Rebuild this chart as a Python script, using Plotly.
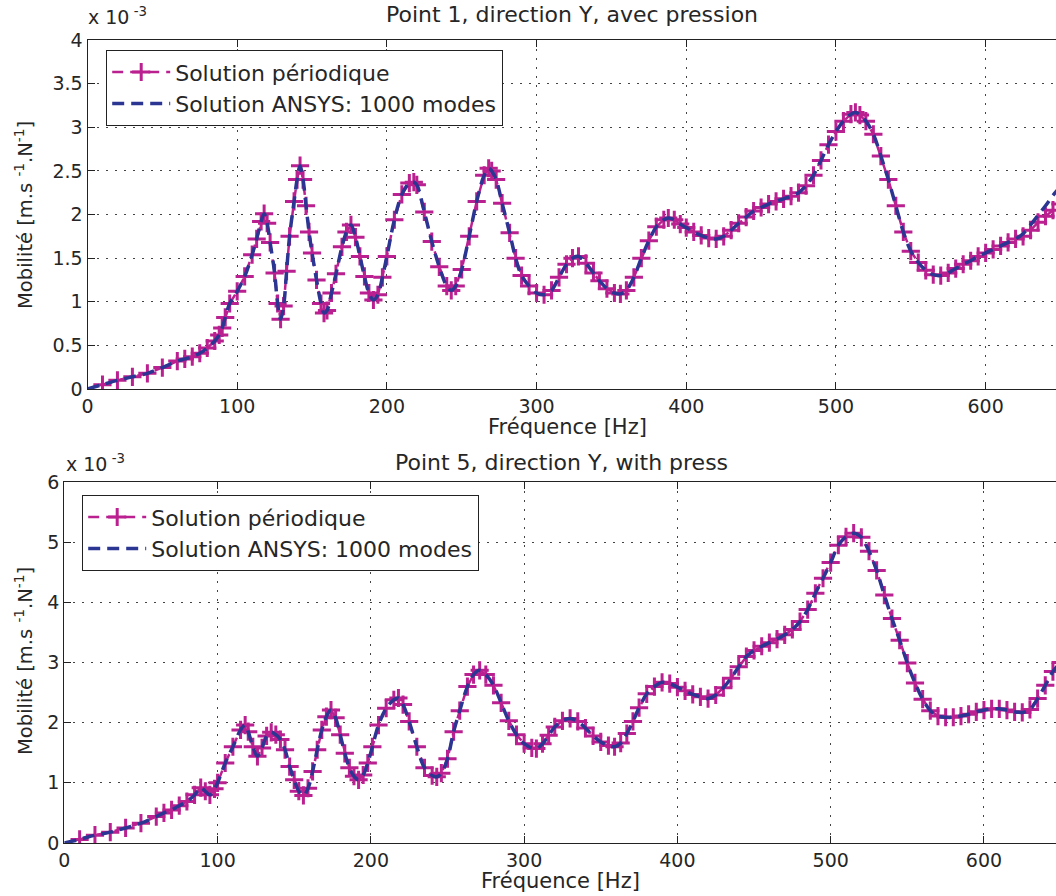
import plotly.graph_objects as go

# ---------------- data (values in units of 1e-3 m.s^-1.N^-1) ----------------
freq_top = [0, 10, 20, 30, 40, 50, 60, 65, 70, 75,
            80, 85, 88, 90, 92, 95, 100, 105, 110, 113,
            116, 118, 120, 122, 125, 127, 129, 131, 133, 135,
            138, 140, 142, 144, 146, 148, 150, 153, 156, 158,
            160, 163, 166, 170, 173, 176, 179, 182, 185, 188,
            191, 194, 197, 200, 205, 210, 215, 218, 220, 225,
            230, 235, 240, 243, 246, 250, 255, 260, 265, 268,
            270, 273, 277, 282, 286, 290, 295, 300, 305, 310,
            315, 320, 324, 328, 333, 338, 342, 347, 352, 356,
            360, 365, 370, 375, 380, 385, 388, 392, 396, 400,
            405, 410, 415, 420, 425, 430, 435, 440, 445, 450,
            455, 460, 465, 470, 475, 480, 485, 490, 495, 500,
            505, 510, 513, 516, 520, 525, 530, 535, 540, 545,
            550, 555, 560, 565, 570, 575, 580, 585, 590, 595,
            600, 605, 610, 615, 620, 625, 630, 635, 640, 645,
            650]

ansys_top = [0, 0.05, 0.10, 0.14, 0.18, 0.245, 0.32, 0.345, 0.37, 0.41,
             0.47, 0.55, 0.62, 0.70, 0.82, 0.98, 1.12, 1.29, 1.54, 1.72,
             1.92, 2.01, 1.90, 1.68, 1.33, 0.98, 0.80, 0.95, 1.35, 1.75,
             2.15, 2.40, 2.56, 2.40, 2.10, 1.80, 1.56, 1.25, 0.98, 0.87,
             0.90, 1.10, 1.32, 1.63, 1.80, 1.88, 1.74, 1.52, 1.29, 1.10,
             1.02, 1.08, 1.28, 1.52, 1.94, 2.23, 2.36, 2.37, 2.34, 2.03,
             1.69, 1.40, 1.18, 1.13, 1.18, 1.37, 1.75, 2.15, 2.45, 2.53,
             2.50, 2.40, 2.13, 1.79, 1.50, 1.30, 1.18, 1.10, 1.08, 1.13,
             1.28, 1.43, 1.50, 1.52, 1.44, 1.33, 1.24, 1.15, 1.10, 1.09,
             1.13, 1.28, 1.50, 1.70, 1.86, 1.94, 1.96, 1.94, 1.89, 1.85,
             1.80, 1.76, 1.73, 1.72, 1.75, 1.82, 1.90, 1.97, 2.04, 2.08,
             2.12, 2.15, 2.18, 2.21, 2.25, 2.33, 2.45, 2.62, 2.80, 2.95,
             3.07, 3.15, 3.17, 3.14, 3.07, 2.92, 2.67, 2.40, 2.10, 1.80,
             1.58, 1.45, 1.36, 1.31, 1.30, 1.33, 1.38, 1.43, 1.47, 1.52,
             1.56, 1.60, 1.64, 1.68, 1.72, 1.78, 1.88, 1.99, 2.10, 2.22,
             2.32]

# periodic solution deviates slightly at the top end (625..650 Hz)
periodic_top_tail = [1.75, 1.82, 1.91, 1.98, 2.05, 2.12]

freq_bot = [0, 10, 20, 30, 40, 50, 60, 65, 70, 75,
            80, 85, 89, 92, 95, 98, 100, 105, 110, 115,
            118, 120, 123, 126, 129, 132, 135, 138, 141, 144,
            147, 150, 153, 156, 159, 162, 165, 168, 171, 174,
            177, 180, 183, 186, 189, 192, 195, 198, 201, 205,
            210, 215, 218, 221, 225, 230, 235, 240, 243, 246,
            250, 254, 258, 263, 267, 271, 275, 280, 285, 290,
            295, 300, 305, 308, 312, 316, 320, 325, 330, 335,
            340, 345, 350, 355, 359, 363, 367, 371, 375, 380,
            385, 390, 395, 400, 405, 410, 415, 420, 425, 430,
            435, 440, 445, 450, 455, 460, 465, 470, 475, 480,
            485, 490, 495, 500, 505, 510, 515, 520, 525, 530,
            535, 540, 545, 550, 555, 560, 565, 570, 575, 580,
            585, 590, 595, 600, 605, 610, 615, 620, 625, 630,
            635, 640, 645, 650]

ansys_bot = [0, 0.06, 0.13, 0.18, 0.25, 0.33, 0.44, 0.50, 0.55, 0.62,
             0.69, 0.80, 0.92, 0.86, 0.80, 0.90, 1.00, 1.33, 1.60, 1.88,
             1.96, 1.85, 1.60, 1.44, 1.58, 1.78, 1.84, 1.80, 1.72, 1.55,
             1.27, 1.05, 0.86, 0.79, 0.91, 1.19, 1.55, 1.88, 2.10, 2.21,
             2.08, 1.80, 1.49, 1.25, 1.11, 1.05, 1.13, 1.33, 1.60, 1.96,
             2.24, 2.38, 2.41, 2.30, 2.02, 1.60, 1.25, 1.12, 1.10, 1.16,
             1.40, 1.85, 2.20, 2.60, 2.80, 2.87, 2.80, 2.62, 2.33, 2.03,
             1.80, 1.65, 1.58, 1.57, 1.65, 1.79, 1.93, 2.03, 2.07, 2.02,
             1.91, 1.78, 1.68, 1.62, 1.60, 1.66, 1.82, 2.02, 2.25, 2.48,
             2.60, 2.67, 2.65, 2.59, 2.53, 2.47, 2.43, 2.40, 2.46, 2.58,
             2.74, 2.93, 3.10, 3.20, 3.27, 3.33, 3.39, 3.46, 3.55, 3.68,
             3.88, 4.15, 4.40, 4.66, 4.95, 5.09, 5.15, 5.08, 4.85, 4.53,
             4.12, 3.73, 3.37, 2.99, 2.66, 2.39, 2.20, 2.11, 2.09, 2.09,
             2.11, 2.14, 2.18, 2.21, 2.23, 2.23, 2.21, 2.18, 2.17, 2.22,
             2.40, 2.62, 2.85, 3.00]

x_ticks = [0, 100, 200, 300, 400, 500, 600]
titles = ["Point 1, direction Y, avec pression", "Point 5, direction Y, with press"]
legend_names = ["Solution périodique", "Solution ANSYS: 1000 modes"]
x_label = "Fréquence [Hz]"
y_label = "Mobilité [m.s <sup>-1</sup>.N<sup>-1</sup>]"
exp_label = "x 10<sup> -3</sup>"

# periodic series (no point at 0 Hz)
per_top_f = freq_top[1:]
per_top_v = ansys_top[1:-len(periodic_top_tail)] + periodic_top_tail
per_bot_f = freq_bot[1:]
per_bot_v = ansys_bot[1:]

# ---------------- figure ----------------
W, H = 1056, 896
FONT = "DejaVu Sans"
TXT = "#262626"
MAG = "#BA2090"
BLUE = "#2B3592"

def px(x):
    return x / W

def py(y):
    return 1 - y / H

fig = go.Figure()

def add_pair(fx, fv, ax, ay, legend, per_f, per_v):
    fig.add_trace(go.Scatter(
        x=per_f, y=per_v, mode="lines+markers", name=legend_names[0],
        line=dict(color=MAG, width=2.5, dash="11px,7px"),
        marker=dict(symbol="cross-thin", size=13, line=dict(color=MAG, width=3)),
        xaxis=ax, yaxis=ay, legend=legend))
    fig.add_trace(go.Scatter(
        x=fx, y=fv, mode="lines", name=legend_names[1], line_shape="spline",
        line=dict(color=BLUE, width=3.5, dash="12px,7px"),
        xaxis=ax, yaxis=ay, legend=legend))

add_pair(freq_top, ansys_top, "x", "y", "legend", per_top_f, per_top_v)
add_pair(freq_bot, ansys_bot, "x2", "y2", "legend2", per_bot_f, per_bot_v)

axis_common = dict(
    automargin=False,
    showline=True, linecolor="#222", linewidth=1.2,
    ticks="inside", ticklen=7, tickcolor="#222",
    showgrid=True, gridcolor="#444", griddash="2px,7px", gridwidth=1,
    zeroline=False, tickfont=dict(family=FONT, size=19, color=TXT),
)

leg_common = dict(xanchor="left", yanchor="top",
                  bgcolor="white", bordercolor="#222", borderwidth=1.2,
                  font=dict(family=FONT, size=22, color=TXT),
                  tracegroupgap=0, itemwidth=58)

fig.update_layout(
    template="none",
    width=W, height=H,
    margin=dict(l=0, r=0, t=0, b=0, pad=0),
    paper_bgcolor="white", plot_bgcolor="white",
    font=dict(family=FONT, size=19, color=TXT),
    xaxis=dict(domain=[px(87.5), 1], range=[0, 647], tickvals=x_ticks,
               anchor="y", mirror="ticks", **axis_common),
    yaxis=dict(domain=[py(389), py(40)], range=[0, 4], dtick=0.5,
               anchor="x", **axis_common),
    xaxis2=dict(domain=[px(64.3), 1], range=[0, 647], tickvals=x_ticks,
                anchor="y2", mirror="ticks", **axis_common),
    yaxis2=dict(domain=[py(843), py(482)], range=[0, 6], dtick=1,
                anchor="x2", **axis_common),
    legend=dict(x=px(106), y=py(50), **leg_common),
    legend2=dict(x=px(82), y=py(495), **leg_common),
    showlegend=True,
)

ann = []
for title, cx, cy in [(titles[0], 572, 15), (titles[1], 561, 462)]:
    ann.append(dict(text=title, x=px(cx), y=py(cy), xref="paper", yref="paper",
                    xanchor="center", yanchor="middle", showarrow=False,
                    font=dict(family=FONT, size=22, color=TXT)))
for cx, cy in [(86, 16), (64, 463)]:
    ann.append(dict(text=exp_label, x=px(cx), y=py(cy), xref="paper", yref="paper",
                    xanchor="left", yanchor="middle", showarrow=False,
                    font=dict(family=FONT, size=19, color=TXT)))
for cx, cy in [(567, 427), (560, 881)]:
    ann.append(dict(text=x_label, x=px(cx), y=py(cy), xref="paper", yref="paper",
                    xanchor="center", yanchor="middle", showarrow=False,
                    font=dict(family=FONT, size=21, color=TXT)))
for cx, cy in [(24, 215), (24, 661)]:
    ann.append(dict(text=y_label, x=px(cx), y=py(cy), xref="paper", yref="paper",
                    xanchor="center", yanchor="middle", showarrow=False, textangle=-90,
                    font=dict(family=FONT, size=19.5, color=TXT)))
fig.update_layout(annotations=ann)

# remove the default 8px page margin so the figure fills the window exactly
fig.write_html("out.html",
               config={"displayModeBar": False},
               post_script="document.body.style.margin='0px';document.body.style.overflow='hidden';")
